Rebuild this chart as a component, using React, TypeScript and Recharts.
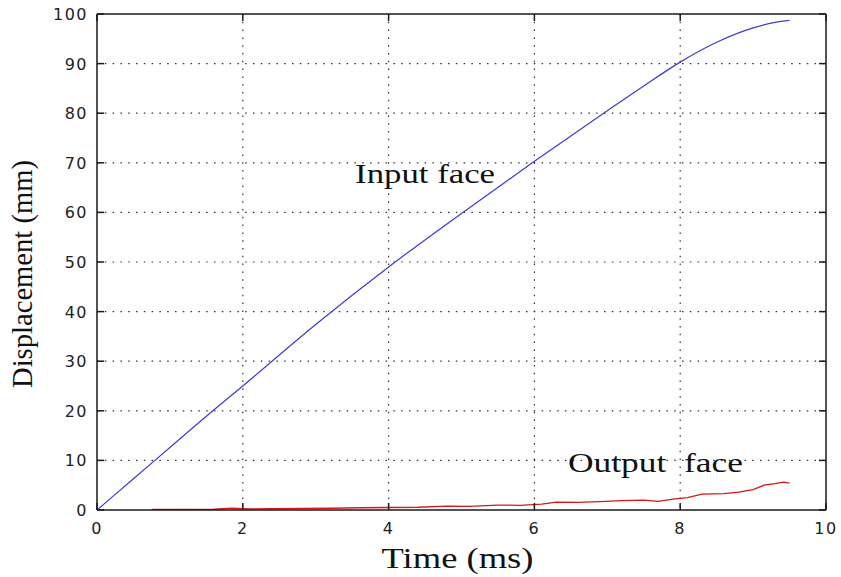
import React from 'react';
import { LineChart, Line, XAxis, YAxis, CartesianGrid, ReferenceDot, Label } from 'recharts';

const inputTime = [0, 0.5, 1, 1.5, 2, 3, 4, 5, 6, 7, 7.5, 8, 8.5, 9, 9.3, 9.5];
const inputDisp = [0, 6.3, 12.6, 18.9, 25, 37.4, 49, 59.8, 70.3, 80.5, 85.5, 90.3, 94.3, 97.2, 98.3, 98.7];

const outputTime = [0.75, 1.2, 1.6, 1.85, 2.1, 2.4, 2.8, 3.2, 3.6, 4.0, 4.4, 4.8, 5.1, 5.5, 5.8, 6.1, 6.3, 6.6, 6.9, 7.2, 7.5, 7.7, 7.9, 8.1, 8.3, 8.6, 8.8, 9.0, 9.15, 9.3, 9.42, 9.5];
const outputDisp = [0.1, 0.1, 0.15, 0.35, 0.2, 0.25, 0.3, 0.35, 0.45, 0.5, 0.55, 0.8, 0.75, 1.0, 0.95, 1.2, 1.6, 1.55, 1.7, 1.9, 2.0, 1.75, 2.2, 2.5, 3.2, 3.3, 3.6, 4.1, 5.0, 5.3, 5.6, 5.4];

const xTicks = [0, 2, 4, 6, 8, 10];
const yTicks = [0, 10, 20, 30, 40, 50, 60, 70, 80, 90, 100];

const inputData = inputTime.map((t, i) => ({ t, v: inputDisp[i] }));
const outputData = outputTime.map((t, i) => ({ t, v: outputDisp[i] }));

const TICK_LEN = 7;
const TICK_FONT = '"DejaVu Sans", sans-serif';
const SERIF = '"Liberation Serif", "Times New Roman", serif';
const AXIS_COLOR = '#1a1a1a';

const BottomTick = (props: any) => {
  const { x, y, payload } = props;
  return (
    <g>
      <line x1={x} y1={y} x2={x} y2={y - TICK_LEN} stroke={AXIS_COLOR} strokeWidth={1.5} />
      <text x={x} y={y + 24} textAnchor="middle" fontFamily={TICK_FONT} fontSize={16} fill="#222" letterSpacing={1.5}>
        {payload.value}
      </text>
    </g>
  );
};

const TopTick = (props: any) => {
  const { x, y } = props;
  return <line x1={x} y1={y} x2={x} y2={y + TICK_LEN} stroke={AXIS_COLOR} strokeWidth={1.5} />;
};

const LeftTick = (props: any) => {
  const { x, y, payload } = props;
  return (
    <g>
      <line x1={x} y1={y} x2={x + TICK_LEN} y2={y} stroke={AXIS_COLOR} strokeWidth={1.5} />
      <text x={x - 9} y={y + 6} textAnchor="end" fontFamily={TICK_FONT} fontSize={16} fill="#222" letterSpacing={1.5}>
        {payload.value}
      </text>
    </g>
  );
};

const RightTick = (props: any) => {
  const { x, y } = props;
  return <line x1={x} y1={y} x2={x - TICK_LEN} y2={y} stroke={AXIS_COLOR} strokeWidth={1.5} />;
};

const XTitle = (props: any) => {
  const vb = props.viewBox;
  return (
    <text x={vb.x + vb.width / 2 - 4} y={vb.y + 58} textAnchor="middle" fontFamily={SERIF} fontSize={30} fill="#111"
      textLength={152} lengthAdjust="spacingAndGlyphs">
      Time (ms)
    </text>
  );
};

const YTitle = (props: any) => {
  const vb = props.viewBox;
  const x = vb.x - 5;
  const y = vb.y + vb.height / 2 + 12;
  return (
    <text x={x} y={y} transform={`rotate(-90, ${x}, ${y})`} textAnchor="middle" fontFamily={SERIF} fontSize={29} fill="#111"
      textLength={228} lengthAdjust="spacingAndGlyphs">
      Displacement (mm)
    </text>
  );
};

const makeAnnot = (text: string, len: number, size: number) => (props: any) => {
  const vb = props.viewBox;
  return (
    <text x={vb.x + vb.width / 2} y={vb.y + vb.height / 2} textAnchor="start" fontFamily={SERIF} fontSize={size} fill="#111"
      textLength={len} lengthAdjust="spacingAndGlyphs" style={{ whiteSpace: 'pre' }}>
      {text}
    </text>
  );
};

const InputLabel = makeAnnot('Input face', 140, 27);
const OutputLabel = makeAnnot('Output  face', 175, 28);

export default function App() {
  return (
    <div style={{ position: 'absolute', left: 0, top: 0, width: 841, height: 577, background: '#fff' }}>
      <LineChart width={841} height={577} margin={{ top: 13, right: 14, bottom: 0, left: 37 }}>
        <CartesianGrid
          xAxisId="b"
          yAxisId="l"
          stroke="#333"
          strokeWidth={1.2}
          strokeDasharray="1.5 6.3"
          horizontalValues={yTicks.slice(1, -1)}
          verticalValues={xTicks.slice(1, -1)}
        />
        <XAxis xAxisId="b" dataKey="t" type="number" domain={[0, 10]} ticks={xTicks} orientation="bottom" height={67}
          tickSize={0} tickMargin={0} tick={<BottomTick />} axisLine={{ stroke: AXIS_COLOR, strokeWidth: 1.5 }} allowDataOverflow>
          <Label content={<XTitle />} />
        </XAxis>
        <XAxis xAxisId="t" dataKey="t" type="number" domain={[0, 10]} ticks={xTicks} orientation="top" height={1}
          tickSize={0} tickMargin={0} tick={<TopTick />} axisLine={{ stroke: AXIS_COLOR, strokeWidth: 1.5 }} allowDataOverflow />
        <YAxis yAxisId="l" type="number" domain={[0, 100]} ticks={yTicks} orientation="left" width={60}
          tickSize={0} tickMargin={0} tick={<LeftTick />} axisLine={{ stroke: AXIS_COLOR, strokeWidth: 1.5 }} allowDataOverflow>
          <Label content={<YTitle />} />
        </YAxis>
        <YAxis yAxisId="r" type="number" domain={[0, 100]} ticks={yTicks} orientation="right" width={1}
          tickSize={0} tickMargin={0} tick={<RightTick />} axisLine={{ stroke: AXIS_COLOR, strokeWidth: 1.5 }} allowDataOverflow />
        <Line xAxisId="b" yAxisId="l" data={inputData} dataKey="v" type="monotone" stroke="#3b3bd6" strokeWidth={1.2}
          dot={false} isAnimationActive={false} />
        <Line xAxisId="b" yAxisId="l" data={outputData} dataKey="v" type="linear" stroke="#d11a1a" strokeWidth={1.3}
          dot={false} isAnimationActive={false} />
        <ReferenceDot xAxisId="b" yAxisId="l" x={3.54} y={65.9} r={0} fill="none" stroke="none" label={<InputLabel />} />
        <ReferenceDot xAxisId="b" yAxisId="l" x={6.46} y={7.66} r={0} fill="none" stroke="none" label={<OutputLabel />} />
      </LineChart>
    </div>
  );
}
